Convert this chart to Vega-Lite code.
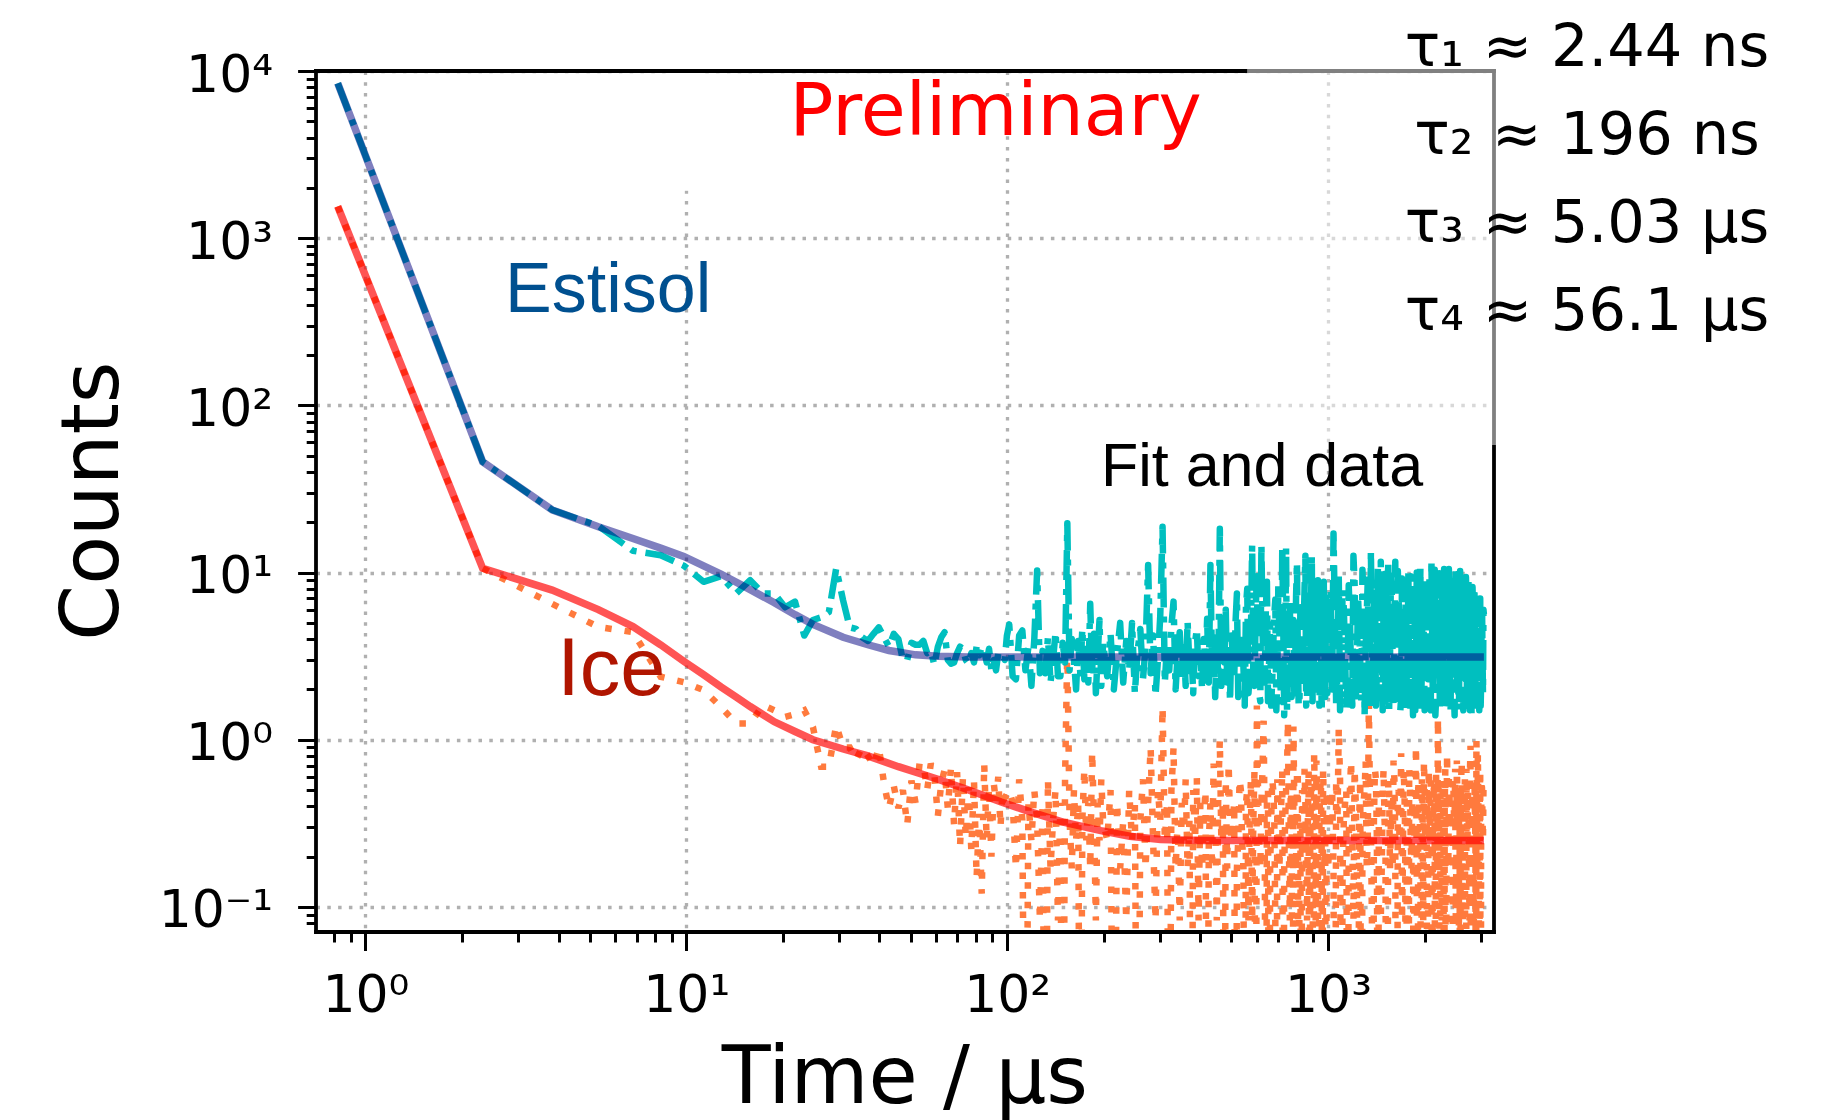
{
"$schema": "https://vega.github.io/schema/vega-lite/v6.json",
"width": 1178, "height": 861,
"autosize": {"type": "none"},
"padding": {"left": 316, "top": 71, "right": 340, "bottom": 188},
"background": "white",
"config": {"view": {"stroke": null}, "font": "DejaVu Sans"},
"datasets": {
"estisol": [
{"t":0.82,"v":8450},{"t":2.32,"v":46},{"t":3.82,"v":23.7},{"t":5.32,"v":19.0},{"t":6.82,"v":13.5},{"t":8.32,"v":12.7},{"t":9.82,"v":11.0},{"t":11.32,"v":8.8},{"t":12.82,"v":9.5},{"t":14.32,"v":7.5},{"t":15.82,"v":9.0},{"t":17.32,"v":7.5},{"t":18.82,"v":7.5},{"t":20.32,"v":6.2},{"t":21.82,"v":6.7},{"t":23.32,"v":4.2},{"t":24.82,"v":5.2},{"t":26.32,"v":5.4},{"t":27.82,"v":5.8},{"t":29.32,"v":10.6},{"t":30.82,"v":6.8},{"t":32.32,"v":4.7},{"t":33.82,"v":4.6},{"t":35.32,"v":4.1},{"t":36.82,"v":3.9},{"t":38.32,"v":4.3},{"t":39.82,"v":4.7},{"t":41.32,"v":4.1},{"t":42.82,"v":3.6},{"t":44.32,"v":4.3},{"t":45.82,"v":4.0},{"t":47.32,"v":3.0},{"t":48.82,"v":3.0},{"t":50.32,"v":3.8},{"t":51.82,"v":3.7},{"t":53.32,"v":3.7},{"t":54.82,"v":3.9},{"t":56.32,"v":3.3},{"t":57.82,"v":3.4},{"t":59.32,"v":2.8},{"t":60.82,"v":3.6},{"t":62.32,"v":4.1},{"t":63.82,"v":4.4},{"t":65.32,"v":3.0},{"t":66.82,"v":2.85},{"t":68.32,"v":2.9},{"t":69.82,"v":3.3},{"t":71.32,"v":3.6},{"t":72.82,"v":3.5},{"t":74.32,"v":3.0},{"t":75.82,"v":2.85},{"t":77.32,"v":3.3},{"t":78.82,"v":2.9},{"t":80.32,"v":3.6},{"t":81.82,"v":3.2},{"t":83.32,"v":3.6},{"t":84.82,"v":3.4},{"t":86.32,"v":2.9},{"t":87.82,"v":3.5},{"t":89.32,"v":2.6},{"t":90.82,"v":3.0},{"t":92.32,"v":2.6},{"t":93.82,"v":3.3},{"t":95.32,"v":3.3},{"t":96.82,"v":3.2},{"t":98.32,"v":3.0},{"t":99.82,"v":4.2},
{"t":101.5,"v":4.9},{"t":104,"v":2.4},{"t":106.5,"v":2.3},{"t":109,"v":4.2},{"t":111.5,"v":4.5},{"t":114,"v":2.6},{"t":116.5,"v":3.6},{"t":119,"v":2.1},{"t":121.5,"v":4.0},{"t":124,"v":10.3},{"t":126.5,"v":2.5},{"t":129,"v":3.4},{"t":131.5,"v":2.5},{"t":134,"v":4.1},{"t":136.5,"v":2.2},{"t":139,"v":3.0},{"t":141.5,"v":4.4},{"t":144,"v":2.4},{"t":146.5,"v":2.4},{"t":149,"v":3.8},{"t":151.5,"v":2.9},{"t":154,"v":19.7},{"t":156.5,"v":2.6},{"t":159,"v":4.0},{"t":161.5,"v":3.0},{"t":164,"v":2.0},{"t":166.5,"v":3.9},{"t":169,"v":2.5},{"t":171.5,"v":4.6},{"t":174,"v":2.3},{"t":176.5,"v":3.5},{"t":179,"v":2.2},{"t":181.5,"v":6.5},{"t":184,"v":2.6},{"t":186.5,"v":4.3},{"t":189,"v":1.9},{"t":191.5,"v":3.2},{"t":194,"v":5.2},{"t":196.5,"v":2.1},{"t":199,"v":3.8},
{"t":205,"v":2.4},{"t":210,"v":4.3},{"t":215,"v":2.0},{"t":220,"v":3.3},{"t":225,"v":5.0},{"t":230,"v":2.2},{"t":235,"v":3.9},{"t":240,"v":2.6},{"t":245,"v":5.0},{"t":250,"v":1.9},{"t":255,"v":3.4},{"t":260,"v":4.6},{"t":265,"v":2.3},{"t":270,"v":3.6},{"t":275,"v":11.1},{"t":280,"v":2.5},{"t":285,"v":4.2},{"t":290,"v":1.83},{"t":295,"v":3.0},{"t":300,"v":5.5},{"t":305,"v":18.8},{"t":310,"v":2.2},{"t":315,"v":3.7},{"t":320,"v":2.6},{"t":325,"v":4.8},{"t":330,"v":6.7},{"t":335,"v":2.0},{"t":340,"v":3.3},{"t":345,"v":4.4},{"t":350,"v":2.3},{"t":355,"v":3.9},{"t":360,"v":2.1},{"t":365,"v":5.1},{"t":370,"v":2.7},{"t":375,"v":3.5},{"t":380,"v":1.9},{"t":385,"v":3.8},{"t":390,"v":4.6},{"t":395,"v":2.4},{"t":400,"v":3.3},{"t":405,"v":2.0},{"t":410,"v":4.0},{"t":415,"v":2.8},{"t":420,"v":5.3},{"t":425,"v":2.2},{"t":430,"v":11.1},{"t":435,"v":2.6},{"t":440,"v":4.1},{"t":445,"v":1.8},{"t":450,"v":3.6},{"t":455,"v":2.4},{"t":460,"v":18.3},{"t":465,"v":2.1},{"t":470,"v":4.7},{"t":475,"v":2.9},{"t":480,"v":6.0},{"t":485,"v":2.2},{"t":490,"v":3.4},{"t":495,"v":1.7},{"t":500,"v":4.2},
{"t":505,"v":3.2},{"t":510,"v":2.3},{"t":515,"v":5.1},{"t":520,"v":7.5},{"t":525,"v":1.8},{"t":530,"v":2.0},{"t":535,"v":3.9},{"t":540,"v":4.4},{"t":545,"v":2.7},{"t":550,"v":1.6},{"t":555,"v":6.3},{"t":560,"v":8.0},{"t":565,"v":1.9},{"t":570,"v":2.5},{"t":575,"v":4.2},{"t":580,"v":14.6},{"t":585,"v":2.4},{"t":590,"v":2.1},{"t":595,"v":5.8},{"t":600,"v":9.5},{"t":605,"v":3.0},{"t":610,"v":1.9},{"t":615,"v":1.7},{"t":620,"v":14.6},{"t":625,"v":4.6},{"t":630,"v":2.6},{"t":635,"v":2.2},{"t":640,"v":6.0},{"t":645,"v":8.8},{"t":650,"v":1.7},{"t":655,"v":2.9},{"t":660,"v":4.9},{"t":665,"v":1.6},{"t":670,"v":2.3},{"t":675,"v":3.7},{"t":680,"v":5.6},{"t":685,"v":6.9},{"t":690,"v":1.5},{"t":695,"v":2.5},{"t":700,"v":8.5},{"t":705,"v":4.4},{"t":710,"v":2.2},{"t":715,"v":1.7},{"t":720,"v":14.3},{"t":725,"v":5.2},{"t":730,"v":1.4},{"t":735,"v":3.1},{"t":740,"v":14.0},{"t":745,"v":1.5},{"t":750,"v":2.4},{"t":755,"v":6.0},{"t":760,"v":7.0},{"t":765,"v":2.6},{"t":770,"v":1.8},{"t":775,"v":4.5},{"t":780,"v":5.2},{"t":785,"v":1.9},{"t":790,"v":2.7},{"t":795,"v":7.2},{"t":800,"v":11.5},{"t":805,"v":3.3},{"t":810,"v":1.6},{"t":815,"v":1.8},{"t":820,"v":6.2},{"t":825,"v":5.9},{"t":830,"v":2.4},{"t":835,"v":2.3},{"t":840,"v":4.8},{"t":845,"v":8.1},{"t":850,"v":12.6},{"t":855,"v":1.6},{"t":860,"v":1.7},{"t":865,"v":4.3},{"t":870,"v":7.4},{"t":875,"v":2.8},{"t":880,"v":2.2},{"t":885,"v":6.6},{"t":890,"v":12.6},{"t":895,"v":1.7},{"t":900,"v":1.9},{"t":905,"v":3.6},{"t":910,"v":5.7},{"t":915,"v":7.9},{"t":920,"v":2.5},{"t":925,"v":2.0},{"t":930,"v":9.0},{"t":935,"v":4.9},{"t":940,"v":1.6},{"t":945,"v":2.7},{"t":950,"v":6.5},{"t":955,"v":1.5},{"t":960,"v":2.3},{"t":965,"v":5.4},{"t":970,"v":8.8},{"t":975,"v":3.0},{"t":980,"v":1.8},{"t":985,"v":7.1},{"t":990,"v":5.9},{"t":995,"v":1.9},{"t":1000,"v":2.6},
{"t":1010,"v":3.4},{"t":1020,"v":7.8},{"t":1030,"v":2.0},{"t":1040,"v":17.1},{"t":1050,"v":5.7},{"t":1060,"v":1.6},{"t":1070,"v":2.6},{"t":1080,"v":9.5},{"t":1090,"v":1.5},{"t":1100,"v":2.2},{"t":1110,"v":7.9},{"t":1120,"v":6.1},{"t":1130,"v":3.2},{"t":1140,"v":1.5},{"t":1150,"v":2.1},{"t":1160,"v":8.4},{"t":1170,"v":5.3},{"t":1180,"v":2.5},{"t":1190,"v":1.6},{"t":1200,"v":12.6},{"t":1210,"v":8.6},{"t":1220,"v":1.7},{"t":1230,"v":2.7},{"t":1240,"v":7.2},{"t":1250,"v":4.8},{"t":1260,"v":2.9},{"t":1270,"v":1.7},{"t":1280,"v":10.4},{"t":1290,"v":6.5},{"t":1300,"v":1.4},{"t":1310,"v":3.6},{"t":1320,"v":5.6},{"t":1330,"v":9.1},{"t":1340,"v":2.3},{"t":1350,"v":1.5},{"t":1360,"v":13.4},{"t":1370,"v":4.1},{"t":1380,"v":1.8},{"t":1390,"v":6.9},{"t":1400,"v":8.9},{"t":1410,"v":1.6},{"t":1420,"v":2.6},{"t":1430,"v":10.8},{"t":1440,"v":6.4},{"t":1450,"v":2.4},{"t":1460,"v":11.6},{"t":1470,"v":5.0},{"t":1480,"v":1.5},{"t":1490,"v":7.3},{"t":1500,"v":9.8},{"t":1510,"v":1.7},{"t":1520,"v":2.1},{"t":1530,"v":4.4},{"t":1540,"v":11.6},{"t":1550,"v":1.5},{"t":1560,"v":3.1},{"t":1570,"v":9.6},{"t":1580,"v":7.7},{"t":1590,"v":2.9},{"t":1600,"v":1.6},{"t":1610,"v":5.1},{"t":1620,"v":11.6},{"t":1630,"v":1.6},{"t":1640,"v":2.4},{"t":1650,"v":10.2},{"t":1660,"v":6.8},{"t":1670,"v":3.5},{"t":1680,"v":1.5},{"t":1690,"v":1.8},{"t":1700,"v":9.2},{"t":1710,"v":6.2},{"t":1720,"v":2.8},{"t":1730,"v":1.5},{"t":1740,"v":5.3},{"t":1750,"v":8.8},{"t":1760,"v":1.7},{"t":1770,"v":3.0},{"t":1780,"v":10.1},{"t":1790,"v":1.6},{"t":1800,"v":2.2},{"t":1810,"v":9.5},{"t":1820,"v":7.5},{"t":1830,"v":2.5},{"t":1840,"v":1.4},{"t":1850,"v":5.6},{"t":1860,"v":8.3},{"t":1870,"v":1.5},{"t":1880,"v":3.0},{"t":1890,"v":10.0},{"t":1900,"v":6.0},{"t":1910,"v":2.8},{"t":1920,"v":1.6},{"t":1930,"v":4.7},{"t":1940,"v":10.6},{"t":1950,"v":1.7},{"t":1960,"v":2.5},{"t":1970,"v":8.3},{"t":1980,"v":7.0},{"t":1990,"v":3.4},{"t":2000,"v":1.5},{"t":2010,"v":1.6},{"t":2020,"v":9.4},{"t":2030,"v":6.8},{"t":2040,"v":2.7},{"t":2050,"v":2.3},{"t":2060,"v":5.8},{"t":2070,"v":9.3},{"t":2080,"v":1.8},{"t":2090,"v":1.5},{"t":2100,"v":11.9},{"t":2110,"v":4.9},{"t":2120,"v":2.0},{"t":2130,"v":2.6},{"t":2140,"v":8.1},{"t":2150,"v":10.4},{"t":2160,"v":1.4},{"t":2170,"v":1.7},{"t":2180,"v":6.6},{"t":2190,"v":5.9},{"t":2200,"v":2.9},{"t":2210,"v":3.1},{"t":2220,"v":9.9},{"t":2230,"v":1.5},{"t":2240,"v":1.7},{"t":2250,"v":9.0},{"t":2260,"v":7.3},{"t":2270,"v":2.2},{"t":2280,"v":2.4},{"t":2290,"v":6.2},{"t":2300,"v":10.5},{"t":2310,"v":3.6},{"t":2320,"v":1.5},{"t":2330,"v":1.6},{"t":2340,"v":8.6},{"t":2350,"v":10.1},{"t":2360,"v":2.2},{"t":2370,"v":2.7},{"t":2380,"v":10.5},{"t":2390,"v":5.2},{"t":2400,"v":1.6},{"t":2410,"v":1.5},{"t":2420,"v":6.3},{"t":2430,"v":8.4},{"t":2440,"v":2.6},{"t":2450,"v":3.2},{"t":2460,"v":9.7},{"t":2470,"v":1.8},{"t":2480,"v":1.4},{"t":2490,"v":7.6},{"t":2500,"v":10.5},{"t":2510,"v":2.4},{"t":2520,"v":2.0},{"t":2530,"v":9.8},{"t":2540,"v":7.8},{"t":2550,"v":1.5},{"t":2560,"v":1.7},{"t":2570,"v":5.7},{"t":2580,"v":10.2},{"t":2590,"v":3.0},{"t":2600,"v":2.8},{"t":2610,"v":8.9},{"t":2620,"v":5.5},{"t":2630,"v":1.6},{"t":2640,"v":1.5},{"t":2650,"v":4.6},{"t":2660,"v":8.7},{"t":2670,"v":2.5},{"t":2680,"v":2.3},{"t":2690,"v":9.4},{"t":2700,"v":7.1},{"t":2710,"v":1.7},{"t":2720,"v":1.6},{"t":2730,"v":6.0},{"t":2740,"v":9.0},{"t":2750,"v":3.3},{"t":2760,"v":2.5},{"t":2770,"v":1.5},{"t":2780,"v":6.4},{"t":2790,"v":8.0},{"t":2800,"v":1.4},{"t":2810,"v":2.7},{"t":2820,"v":8.2},{"t":2830,"v":5.9},{"t":2840,"v":2.1},{"t":2850,"v":1.6},{"t":2860,"v":7.6},{"t":2870,"v":7.8},{"t":2880,"v":1.8},{"t":2890,"v":3.0},{"t":2900,"v":6.9},{"t":2910,"v":1.7},{"t":2920,"v":2.6},{"t":2930,"v":6.7},{"t":2940,"v":5.4},{"t":2950,"v":2.4},{"t":2960,"v":1.5},{"t":2970,"v":7.0},{"t":2980,"v":7.0},{"t":2990,"v":1.6},{"t":3000,"v":2.2},{"t":3010,"v":5.2},{"t":3020,"v":6.2},{"t":3030,"v":3.1},{"t":3040,"v":1.9},{"t":3050,"v":6.0},{"t":3060,"v":5.6}
],
"ice": [
{"t":0.82,"v":1549},{"t":2.32,"v":10.6},{"t":3.82,"v":6.5},{"t":5.32,"v":4.73},{"t":6.82,"v":4.4},{"t":8.32,"v":2.38},{"t":9.82,"v":2.21},{"t":11.32,"v":1.98},{"t":12.82,"v":1.57},{"t":14.32,"v":1.25},{"t":15.82,"v":1.25},{"t":17.32,"v":1.61},{"t":18.82,"v":1.5},{"t":20.32,"v":1.37},{"t":21.82,"v":1.42},{"t":23.32,"v":1.5},{"t":24.82,"v":1.19},{"t":26.32,"v":0.69},{"t":27.82,"v":0.69},{"t":29.32,"v":1.22},{"t":30.82,"v":0.9},{"t":32.32,"v":0.9},{"t":33.82,"v":0.76},{"t":35.32,"v":0.9},{"t":36.82,"v":0.8},{"t":38.32,"v":0.7},{"t":39.82,"v":0.9},{"t":41.32,"v":0.55},{"t":42.82,"v":0.39},{"t":44.32,"v":0.53},{"t":45.82,"v":0.39},{"t":47.32,"v":0.5},{"t":48.82,"v":0.31},{"t":50.32,"v":0.57},{"t":51.82,"v":0.42},{"t":53.32,"v":0.72},{"t":54.82,"v":0.72},{"t":56.32,"v":0.5},{"t":57.82,"v":0.72},{"t":59.32,"v":0.62},{"t":60.82,"v":0.35},{"t":62.32,"v":0.55},{"t":63.82,"v":0.66},{"t":65.32,"v":0.39},{"t":66.82,"v":0.68},{"t":68.32,"v":0.31},{"t":69.82,"v":0.64},{"t":71.32,"v":0.23},{"t":72.82,"v":0.6},{"t":74.32,"v":0.26},{"t":75.82,"v":0.52},{"t":77.32,"v":0.22},{"t":78.82,"v":0.57},{"t":80.32,"v":0.15},{"t":81.82,"v":0.36},{"t":83.32,"v":0.12},{"t":84.82,"v":0.72},{"t":86.32,"v":0.25},{"t":87.82,"v":0.52},{"t":89.32,"v":0.2},{"t":90.82,"v":0.55},{"t":92.32,"v":0.42},{"t":93.82,"v":0.6},{"t":95.32,"v":0.3},{"t":96.82,"v":0.5},{"t":98.32,"v":0.45},
{"t":101.5,"v":0.5},{"t":104,"v":0.42},{"t":106.5,"v":0.17},{"t":109,"v":0.58},{"t":111.5,"v":0.33},{"t":114,"v":0.001},{"t":116.5,"v":0.42},{"t":119,"v":0.25},{"t":121.5,"v":0.5},{"t":124,"v":0.33},{"t":126.5,"v":0.083},{"t":129,"v":0.42},{"t":131.5,"v":0.001},{"t":134,"v":0.58},{"t":136.5,"v":0.17},{"t":139,"v":0.33},{"t":141.5,"v":0.5},{"t":144,"v":0.083},{"t":146.5,"v":0.42},{"t":149,"v":0.001},{"t":151.5,"v":0.58},{"t":154,"v":3.5},{"t":156.5,"v":0.33},{"t":159,"v":0.17},{"t":161.5,"v":0.5},{"t":164,"v":0.25},{"t":166.5,"v":0.42},{"t":169,"v":0.001},{"t":171.5,"v":0.33},{"t":174,"v":0.67},{"t":176.5,"v":0.25},{"t":179,"v":0.42},{"t":181.5,"v":0.17},{"t":184,"v":0.85},{"t":186.5,"v":0.33},{"t":189,"v":0.083},{"t":191.5,"v":0.42},{"t":194,"v":0.25},{"t":196.5,"v":0.58},{"t":199,"v":0.33},
{"t":205,"v":0.25},{"t":210,"v":0.5},{"t":215,"v":0.001},{"t":220,"v":0.42},{"t":225,"v":0.17},{"t":230,"v":0.33},{"t":235,"v":0.083},{"t":240,"v":0.5},{"t":245,"v":0.25},{"t":250,"v":0.42},{"t":255,"v":0.001},{"t":260,"v":0.33},{"t":265,"v":0.58},{"t":270,"v":0.17},{"t":275,"v":0.42},{"t":280,"v":0.9},{"t":285,"v":0.25},{"t":290,"v":0.083},{"t":295,"v":0.5},{"t":300,"v":0.33},{"t":305,"v":1.57},{"t":310,"v":0.25},{"t":315,"v":0.42},{"t":320,"v":0.001},{"t":325,"v":0.5},{"t":330,"v":0.9},{"t":335,"v":0.17},{"t":340,"v":0.33},{"t":345,"v":0.083},{"t":350,"v":0.42},{"t":355,"v":0.25},{"t":360,"v":0.58},{"t":365,"v":0.17},{"t":370,"v":0.33},{"t":375,"v":0.001},{"t":380,"v":0.5},{"t":385,"v":0.25},{"t":390,"v":0.6},{"t":395,"v":0.083},{"t":400,"v":0.42},{"t":405,"v":0.17},{"t":410,"v":0.33},{"t":415,"v":0.5},{"t":420,"v":0.001},{"t":425,"v":0.25},{"t":430,"v":0.42},{"t":435,"v":0.17},{"t":440,"v":0.72},{"t":445,"v":0.33},{"t":450,"v":0.083},{"t":455,"v":0.5},{"t":460,"v":1.0},{"t":465,"v":0.25},{"t":470,"v":0.42},{"t":475,"v":0.001},{"t":480,"v":0.58},{"t":485,"v":0.17},{"t":490,"v":0.72},{"t":495,"v":0.33},{"t":500,"v":0.25},
{"t":505,"v":0.33},{"t":510,"v":0.42},{"t":515,"v":0.001},{"t":520,"v":0.17},{"t":525,"v":0.25},{"t":530,"v":0.58},{"t":535,"v":0.5},{"t":540,"v":0.25},{"t":545,"v":0.17},{"t":550,"v":0.001},{"t":555,"v":0.42},{"t":560,"v":0.5},{"t":565,"v":0.083},{"t":570,"v":0.33},{"t":575,"v":0.58},{"t":580,"v":0.083},{"t":585,"v":0.33},{"t":590,"v":0.67},{"t":595,"v":0.001},{"t":600,"v":1.6},{"t":605,"v":0.5},{"t":610,"v":0.25},{"t":615,"v":0.17},{"t":620,"v":0.42},{"t":625,"v":0.67},{"t":630,"v":1.3},{"t":635,"v":0.25},{"t":640,"v":0.001},{"t":645,"v":0.42},{"t":650,"v":0.5},{"t":655,"v":0.001},{"t":660,"v":0.17},{"t":665,"v":0.33},{"t":670,"v":0.58},{"t":675,"v":0.5},{"t":680,"v":0.33},{"t":685,"v":0.083},{"t":690,"v":0.001},{"t":695,"v":0.58},{"t":700,"v":0.42},{"t":705,"v":0.17},{"t":710,"v":0.25},{"t":715,"v":0.42},{"t":720,"v":0.67},{"t":725,"v":0.001},{"t":730,"v":0.17},{"t":735,"v":0.33},{"t":740,"v":0.5},{"t":745,"v":0.67},{"t":750,"v":1.3},{"t":755,"v":0.25},{"t":760,"v":0.083},{"t":765,"v":0.5},{"t":770,"v":0.42},{"t":775,"v":0.001},{"t":780,"v":1.2},{"t":785,"v":0.42},{"t":790,"v":0.25},{"t":795,"v":0.17},{"t":800,"v":0.58},{"t":805,"v":0.58},{"t":810,"v":0.001},{"t":815,"v":0.25},{"t":820,"v":0.33},{"t":825,"v":0.001},{"t":830,"v":0.5},{"t":835,"v":0.42},{"t":840,"v":0.17},{"t":845,"v":0.67},{"t":850,"v":0.42},{"t":855,"v":0.17},{"t":860,"v":0.083},{"t":865,"v":0.33},{"t":870,"v":0.67},{"t":875,"v":0.001},{"t":880,"v":0.25},{"t":885,"v":0.5},{"t":890,"v":0.5},{"t":895,"v":0.25},{"t":900,"v":0.001},{"t":905,"v":0.83},{"t":910,"v":0.42},{"t":915,"v":0.083},{"t":920,"v":0.75},{"t":925,"v":0.42},{"t":930,"v":0.17},{"t":935,"v":0.001},{"t":940,"v":0.33},{"t":945,"v":0.5},{"t":950,"v":0.58},{"t":955,"v":0.25},{"t":960,"v":0.001},{"t":965,"v":0.67},{"t":970,"v":0.42},{"t":975,"v":0.17},{"t":980,"v":0.25},{"t":985,"v":0.001},{"t":990,"v":0.5},{"t":995,"v":0.42},{"t":1000,"v":0.17},
{"t":1010,"v":0.25},{"t":1020,"v":0.42},{"t":1030,"v":0.5},{"t":1040,"v":0.17},{"t":1050,"v":0.001},{"t":1060,"v":0.58},{"t":1070,"v":0.33},{"t":1080,"v":1.18},{"t":1090,"v":0.58},{"t":1100,"v":0.001},{"t":1110,"v":0.17},{"t":1120,"v":0.33},{"t":1130,"v":0.42},{"t":1140,"v":0.5},{"t":1150,"v":0.001},{"t":1160,"v":0.25},{"t":1170,"v":0.5},{"t":1180,"v":0.75},{"t":1190,"v":0.25},{"t":1200,"v":0.083},{"t":1210,"v":0.67},{"t":1220,"v":0.42},{"t":1230,"v":0.17},{"t":1240,"v":0.001},{"t":1250,"v":0.33},{"t":1260,"v":0.58},{"t":1270,"v":0.001},{"t":1280,"v":0.25},{"t":1290,"v":0.42},{"t":1300,"v":0.5},{"t":1310,"v":0.75},{"t":1320,"v":0.17},{"t":1330,"v":0.25},{"t":1340,"v":1.67},{"t":1350,"v":0.5},{"t":1360,"v":0.33},{"t":1370,"v":0.083},{"t":1380,"v":0.001},{"t":1390,"v":0.33},{"t":1400,"v":0.67},{"t":1410,"v":0.58},{"t":1420,"v":0.25},{"t":1430,"v":0.001},{"t":1440,"v":0.42},{"t":1450,"v":0.42},{"t":1460,"v":0.083},{"t":1470,"v":0.17},{"t":1480,"v":0.5},{"t":1490,"v":0.67},{"t":1500,"v":0.33},{"t":1510,"v":0.25},{"t":1520,"v":0.001},{"t":1530,"v":0.001},{"t":1540,"v":0.58},{"t":1550,"v":0.5},{"t":1560,"v":0.17},{"t":1570,"v":0.33},{"t":1580,"v":0.42},{"t":1590,"v":0.17},{"t":1600,"v":0.75},{"t":1610,"v":0.58},{"t":1620,"v":0.25},{"t":1630,"v":0.001},{"t":1640,"v":0.001},{"t":1650,"v":0.42},{"t":1660,"v":0.5},{"t":1670,"v":0.25},{"t":1680,"v":0.33},{"t":1690,"v":0.83},{"t":1700,"v":0.083},{"t":1710,"v":0.17},{"t":1720,"v":0.67},{"t":1730,"v":0.5},{"t":1740,"v":0.25},{"t":1750,"v":0.001},{"t":1760,"v":0.42},{"t":1770,"v":0.33},{"t":1780,"v":0.001},{"t":1790,"v":0.67},{"t":1800,"v":0.58},{"t":1810,"v":0.25},{"t":1820,"v":0.17},{"t":1830,"v":0.42},{"t":1840,"v":0.5},{"t":1850,"v":0.001},{"t":1860,"v":0.33},{"t":1870,"v":0.5},{"t":1880,"v":0.92},{"t":1890,"v":0.17},{"t":1900,"v":0.001},{"t":1910,"v":0.58},{"t":1920,"v":0.42},{"t":1930,"v":0.33},{"t":1940,"v":0.25},{"t":1950,"v":0.001},{"t":1960,"v":0.58},{"t":1970,"v":0.42},{"t":1980,"v":0.083},{"t":1990,"v":0.75},{"t":2000,"v":0.5},{"t":2010,"v":0.25},{"t":2020,"v":0.33},{"t":2030,"v":0.5},{"t":2040,"v":0.001},{"t":2050,"v":0.083},{"t":2060,"v":0.67},{"t":2070,"v":0.33},{"t":2080,"v":0.25},{"t":2090,"v":0.58},{"t":2100,"v":0.42},{"t":2110,"v":0.001},{"t":2120,"v":0.17},{"t":2130,"v":0.42},{"t":2140,"v":0.58},{"t":2150,"v":0.25},{"t":2160,"v":0.001},{"t":2170,"v":0.67},{"t":2180,"v":0.33},{"t":2190,"v":0.17},{"t":2200,"v":1.35},{"t":2210,"v":0.5},{"t":2220,"v":0.25},{"t":2230,"v":0.001},{"t":2240,"v":0.5},{"t":2250,"v":0.33},{"t":2260,"v":0.083},{"t":2270,"v":0.58},{"t":2280,"v":0.42},{"t":2290,"v":0.25},{"t":2300,"v":0.001},{"t":2310,"v":0.42},{"t":2320,"v":0.67},{"t":2330,"v":0.001},{"t":2340,"v":0.33},{"t":2350,"v":0.83},{"t":2360,"v":0.17},{"t":2370,"v":0.17},{"t":2380,"v":0.58},{"t":2390,"v":0.5},{"t":2400,"v":0.25},{"t":2410,"v":0.25},{"t":2420,"v":0.42},{"t":2430,"v":0.001},{"t":2440,"v":0.001},{"t":2450,"v":0.58},{"t":2460,"v":0.5},{"t":2470,"v":0.33},{"t":2480,"v":0.33},{"t":2490,"v":0.67},{"t":2500,"v":0.083},{"t":2510,"v":0.17},{"t":2520,"v":0.75},{"t":2530,"v":0.42},{"t":2540,"v":0.25},{"t":2550,"v":0.001},{"t":2560,"v":0.42},{"t":2570,"v":0.5},{"t":2580,"v":0.001},{"t":2590,"v":0.25},{"t":2600,"v":0.58},{"t":2610,"v":0.75},{"t":2620,"v":0.17},{"t":2630,"v":0.083},{"t":2640,"v":0.5},{"t":2650,"v":0.42},{"t":2660,"v":0.33},{"t":2670,"v":0.58},{"t":2680,"v":0.001},{"t":2690,"v":0.001},{"t":2700,"v":0.67},{"t":2710,"v":0.33},{"t":2720,"v":0.25},{"t":2730,"v":0.5},{"t":2740,"v":0.42},{"t":2750,"v":0.17},{"t":2760,"v":0.083},{"t":2770,"v":0.67},{"t":2780,"v":0.92},{"t":2790,"v":0.001},{"t":2800,"v":0.33},{"t":2810,"v":0.42},{"t":2820,"v":0.5},{"t":2830,"v":0.25},{"t":2840,"v":0.001},{"t":2850,"v":0.58},{"t":2860,"v":0.58},{"t":2870,"v":0.33},{"t":2880,"v":0.25},{"t":2890,"v":0.001},{"t":2900,"v":1.0},{"t":2910,"v":0.5},{"t":2920,"v":0.17},{"t":2930,"v":0.83},{"t":2940,"v":0.42},{"t":2950,"v":0.25},{"t":2960,"v":0.001},{"t":2970,"v":0.42},{"t":2980,"v":0.67},{"t":2990,"v":0.001},{"t":3000,"v":0.33},{"t":3010,"v":0.58},{"t":3020,"v":0.5},{"t":3030,"v":0.33},{"t":3040,"v":0.25},{"t":3050,"v":0.5},{"t":3060,"v":0.42}
],
"fitE": [
{"t":0.82,"v":8450},{"t":2.32,"v":46},{"t":3.82,"v":23.7},{"t":5.32,"v":18.8},{"t":6.82,"v":16.0},{"t":8.32,"v":14.0},{"t":9.82,"v":12.5},{"t":12.82,"v":9.8},{"t":15.82,"v":7.9},{"t":18.82,"v":6.6},{"t":21.82,"v":5.6},{"t":24.82,"v":4.9},{"t":30.82,"v":4.1},{"t":36.82,"v":3.7},{"t":42.82,"v":3.42},{"t":51.82,"v":3.22},{"t":60.82,"v":3.16},{"t":75.82,"v":3.13},{"t":3060,"v":3.13}
],
"fitI": [
{"t":0.82,"v":1549},{"t":2.32,"v":10.6},{"t":3.82,"v":7.85},{"t":5.32,"v":6.0},{"t":6.82,"v":4.75},{"t":8.32,"v":3.7},{"t":9.82,"v":2.95},{"t":11.32,"v":2.45},{"t":12.82,"v":2.07},{"t":14.32,"v":1.8},{"t":15.82,"v":1.58},{"t":18.82,"v":1.28},{"t":21.82,"v":1.12},{"t":24.82,"v":1.0},{"t":30.82,"v":0.88},{"t":36.82,"v":0.8},{"t":45.82,"v":0.69},{"t":60.82,"v":0.58},{"t":75.82,"v":0.5},{"t":95.82,"v":0.424},{"t":120.82,"v":0.365},{"t":150.82,"v":0.32},{"t":195.82,"v":0.286},{"t":240.82,"v":0.265},{"t":300.82,"v":0.253},{"t":400.82,"v":0.25},{"t":3060,"v":0.25}
],
"spines": [
{"t":0.7016,"t2":3290,"v":10000,"v2":10000},{"t":3290,"t2":3290,"v":0.0708,"v2":10000},{"t":0.7016,"t2":0.7016,"v":0.0708,"v2":10000},{"t":0.7016,"t2":3290,"v":0.0708,"v2":0.0708}
],
"taus": [
{"t":6412,"v":10670,"label":"τ₁ ≈ 2.44 ns"},{"t":6412,"v":3202,"label":"τ₂ ≈ 196 ns"},{"t":6412,"v":951,"label":"τ₃ ≈ 5.03 μs"},{"t":6412,"v":282.8,"label":"τ₄ ≈ 56.1 μs"}
]
},
"encoding": {
"x": {"field": "t", "type": "quantitative",
 "scale": {"type": "log", "domain": [0.7016, 3290], "nice": false, "zero": false},
 "axis": {
  "title": "Time / μs", "titleFont": "DejaVu Sans", "titleFontSize": 80, "titleFontWeight": "normal", "titleColor": "black",
  "titleX": 588.4, "titleY": 170, "titleAlign": "center", "titleBaseline": "alphabetic", "titleAngle": 0,
  "values": [0.8,0.9,1,2,3,4,5,6,7,8,9,10,20,30,40,50,60,70,80,90,100,200,300,400,500,600,700,800,900,1000,2000,3000],
  "labelExpr": "(abs(log(datum.value)/LN10 - round(log(datum.value)/LN10)) > 0.001) ? '' : datum.value < 0.5 ? '10⁻¹' : datum.value < 5 ? '10⁰' : datum.value < 50 ? '10¹' : datum.value < 500 ? '10²' : datum.value < 5000 ? '10³' : '10⁴'",
  "labelFont": "DejaVu Sans", "labelFontSize": 52, "labelColor": "black", "labelBaseline": "alphabetic", "labelPadding": 61,
  "labelOverlap": false, "labelFlush": false, "labelBound": false, "labelAngle": 0,
  "domain": false, "ticks": true, "tickColor": "black", "tickWidth": 3,
  "tickSize": {"condition": {"test": "abs(log(datum.value)/LN10 - round(log(datum.value)/LN10)) < 0.001", "value": 18.5}, "value": 10},
  "grid": true, "gridColor": "#b0b0b0", "gridWidth": 3.3, "gridDash": [3.5, 7.3],
  "gridOpacity": {"condition": {"test": "abs(log(datum.value)/LN10 - round(log(datum.value)/LN10)) < 0.001", "value": 1}, "value": 0}
 }},
"y": {"field": "v", "type": "quantitative",
 "scale": {"type": "log", "domain": [0.0708, 10000], "nice": false, "zero": false},
 "axis": {
  "title": "Counts", "titleFont": "DejaVu Sans", "titleFontSize": 80, "titleFontWeight": "normal", "titleColor": "black",
  "titleX": -198.6, "titleY": 429.6, "titleAlign": "center", "titleBaseline": "alphabetic", "titleAngle": 270,
  "values": [0.08,0.09,0.1,0.2,0.3,0.4,0.5,0.6,0.7,0.8,0.9,1,2,3,4,5,6,7,8,9,10,20,30,40,50,60,70,80,90,100,200,300,400,500,600,700,800,900,1000,2000,3000,4000,5000,6000,7000,8000,9000,10000],
  "labelExpr": "(abs(log(datum.value)/LN10 - round(log(datum.value)/LN10)) > 0.001) ? '' : datum.value < 0.5 ? '10⁻¹' : datum.value < 5 ? '10⁰' : datum.value < 50 ? '10¹' : datum.value < 500 ? '10²' : datum.value < 5000 ? '10³' : '10⁴'",
  "labelFont": "DejaVu Sans", "labelFontSize": 52, "labelColor": "black", "labelBaseline": "alphabetic", "labelOffset": 20, "labelPadding": 25, "labelAlign": "right",
  "labelOverlap": false, "labelFlush": false, "labelBound": false,
  "domain": false, "ticks": true, "tickColor": "black", "tickWidth": 3,
  "tickSize": {"condition": {"test": "abs(log(datum.value)/LN10 - round(log(datum.value)/LN10)) < 0.001", "value": 18.4}, "value": 9.8},
  "grid": true, "gridColor": "#b0b0b0", "gridWidth": 3.3, "gridDash": [3.5, 7.3],
  "gridOpacity": {"condition": {"test": "abs(log(datum.value)/LN10 - round(log(datum.value)/LN10)) < 0.001", "value": 1}, "value": 0}
 }}
},
"layer": [
{"data": {"values": [{"t": 9, "t2": 11, "v": 1923, "v2": 10000}]},
 "mark": {"type": "rect", "color": "white", "opacity": 1},
 "encoding": {"x2": {"field": "t2"}, "y2": {"field": "v2"}}},
{"data": {"name": "ice"},
 "mark": {"type": "line", "color": "#ff7a3d", "strokeWidth": 6.5, "strokeDash": [6.5, 13], "strokeCap": "butt", "strokeJoin": "miter", "clip": true},
 "encoding": {}},
{"data": {"name": "estisol"},
 "mark": {"type": "line", "color": "#00bfbf", "strokeWidth": 6.5, "strokeDash": [30, 9, 6, 9], "strokeCap": "butt", "strokeJoin": "round", "clip": true},
 "encoding": {}},
{"data": {"name": "fitI"},
 "mark": {"type": "line", "color": "#ff0000", "opacity": 0.67, "strokeWidth": 7.5, "clip": true},
 "encoding": {}},
{"data": {"name": "fitE"},
 "mark": {"type": "line", "color": "#000080", "opacity": 0.5, "strokeWidth": 7.5, "clip": true},
 "encoding": {}},
{"data": {"name": "spines"},
 "mark": {"type": "rule", "color": "black", "strokeWidth": 3.8, "strokeCap": "square"},
 "encoding": {"x2": {"field": "t2"}, "y2": {"field": "v2"}}},
{"data": {"values": [{"t": 559.5, "t2": 30000, "v": 57.9, "v2": 100000}]},
 "mark": {"type": "rect", "color": "white", "opacity": 0.5},
 "encoding": {"x2": {"field": "t2"}, "y2": {"field": "v2"}}},
{"data": {"values": [{"t": 5.71, "v": 360, "label": "Estisol"}]},
 "mark": {"type": "text", "font": "Liberation Sans", "fontSize": 70, "color": "#005090", "align": "center", "baseline": "alphabetic"},
 "encoding": {"text": {"field": "label"}}},
{"data": {"values": [{"t": 5.84, "v": 1.845, "label": "Ice"}]},
 "mark": {"type": "text", "font": "Liberation Sans", "fontSize": 81, "color": "#b01500", "align": "center", "baseline": "alphabetic"},
 "encoding": {"text": {"field": "label"}}},
{"data": {"values": [{"t": 92.1, "v": 4159, "label": "Preliminary"}]},
 "mark": {"type": "text", "font": "DejaVu Sans", "fontSize": 73, "color": "#ff0000", "align": "center", "baseline": "alphabetic"},
 "encoding": {"text": {"field": "label"}}},
{"data": {"values": [{"t": 622.6, "v": 32.9, "label": "Fit and data"}]},
 "mark": {"type": "text", "font": "Liberation Sans", "fontSize": 61, "color": "black", "align": "center", "baseline": "alphabetic"},
 "encoding": {"text": {"field": "label"}}},
{"data": {"name": "taus"},
 "mark": {"type": "text", "font": "DejaVu Sans", "fontSize": 59, "color": "black", "align": "center", "baseline": "alphabetic"},
 "encoding": {"text": {"field": "label"}}}
]
}
